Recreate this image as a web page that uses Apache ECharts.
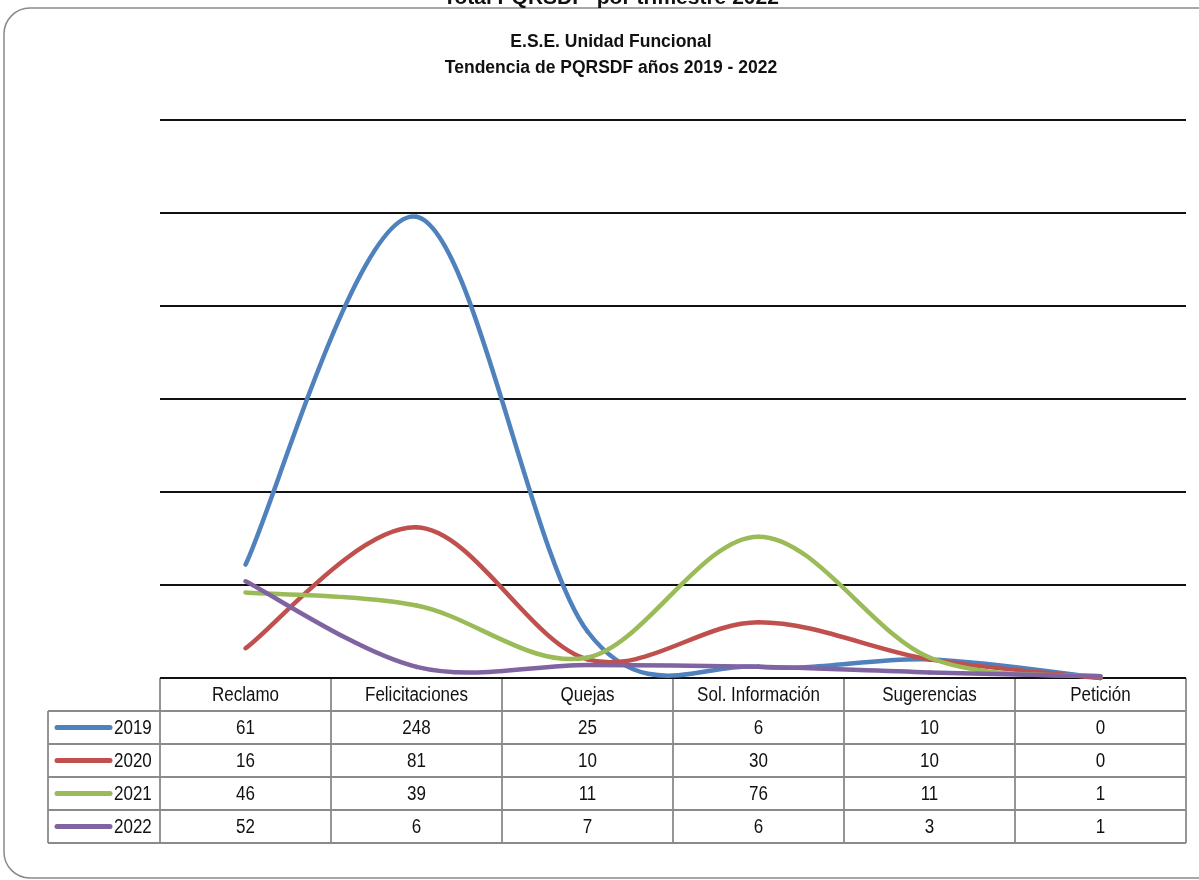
<!DOCTYPE html>
<html>
<head>
<meta charset="utf-8">
<style>
  html, body { margin: 0; padding: 0; background: #fff; }
  #chart { width: 1199px; height: 880px; }
</style>
<script src="https://cdn.jsdelivr.net/npm/echarts@6/dist/echarts.min.js"></script>
</head>
<body>
<div id="chart"></div>
<script>
// PQRSDF counts by type, one list per year
const categories = ['Reclamo', 'Felicitaciones', 'Quejas', 'Sol. Información', 'Sugerencias', 'Petición'];
const years = ['2019', '2020', '2021', '2022'];
const values2019 = [61, 248, 25, 6, 10, 0];
const values2020 = [16, 81, 10, 30, 10, 0];
const values2021 = [46, 39, 11, 76, 11, 1];
const values2022 = [52, 6, 7, 6, 3, 1];
const seriesValues = [values2019, values2020, values2021, values2022];
const colors = ['#4F81BD', '#C0504D', '#9BBB59', '#8064A2'];

const FONT = '"Liberation Sans", Arial, sans-serif';
const NARROW = 0.85; // horizontal squeeze for a narrow-looking face

// plot area geometry
const G = { left: 160, right: 13, top: 120, bottom: 202 };
const W = 1199, H = 880;
const plotRight = W - G.right;
const plotBottom = H - G.bottom;
const colW = (plotRight - G.left) / categories.length;
const rowH = 33;
const legendLeft = 48;

const chart = echarts.init(document.getElementById('chart'), null, { renderer: 'canvas' });

function narrowText(x, y, text, size, weight, align) {
  return {
    type: 'text', silent: true, x: x, y: y, scaleX: NARROW, z: 10,
    style: { x: 0, y: 0, text: text, fill: '#111', font: (weight || 'normal') + ' ' + size + 'px ' + FONT, align: align || 'center', verticalAlign: 'middle' }
  };
}

const graphics = [];
// outer rounded frame
graphics.push({
  type: 'rect', silent: true, z: 0,
  shape: { x: 4, y: 8, width: 1230, height: 870, r: 26 },
  style: { fill: 'none', stroke: '#8a8a8a', lineWidth: 1.5 }
});
// titles (the top one sits mostly above the page edge)
graphics.push({
  type: 'text', silent: true, x: 611, y: 9, z: 10,
  style: { x: 0, y: 0, text: 'Total PQRSDF  por trimestre 2022', fill: '#111', font: 'bold 21px ' + FONT, align: 'center', verticalAlign: 'bottom' }
});
graphics.push({
  type: 'text', silent: true, x: 611, y: 42, z: 10,
  style: { x: 0, y: 0, text: 'E.S.E. Unidad Funcional', fill: '#111', font: 'bold 17.5px ' + FONT, align: 'center', verticalAlign: 'middle' }
});
graphics.push({
  type: 'text', silent: true, x: 611, y: 68, z: 10,
  style: { x: 0, y: 0, text: 'Tendencia de PQRSDF años 2019 - 2022', fill: '#111', font: 'bold 17.5px ' + FONT, align: 'center', verticalAlign: 'middle' }
});

// data table under the plot, built from the arrays above
const gridStroke = '#8a8a8a';
const tableTop = plotBottom;
const tableBottom = tableTop + rowH * (years.length + 1);
graphics.push({ type: 'line', silent: true, shape: { x1: G.left, y1: tableTop, x2: plotRight, y2: tableTop }, style: { stroke: gridStroke, lineWidth: 1.8 } });
for (let r = 1; r <= years.length + 1; r++) {
  const y = tableTop + r * rowH;
  graphics.push({ type: 'line', silent: true, shape: { x1: legendLeft, y1: y, x2: plotRight, y2: y }, style: { stroke: gridStroke, lineWidth: 1.8 } });
}
for (let c = 0; c <= categories.length; c++) {
  const x = G.left + c * colW;
  graphics.push({ type: 'line', silent: true, shape: { x1: x, y1: tableTop, x2: x, y2: tableBottom }, style: { stroke: gridStroke, lineWidth: 1.8 } });
}
graphics.push({ type: 'line', silent: true, shape: { x1: legendLeft, y1: tableTop + rowH, x2: legendLeft, y2: tableBottom }, style: { stroke: gridStroke, lineWidth: 1.8 } });
categories.forEach((c, i) => {
  graphics.push(narrowText(G.left + (i + 0.5) * colW, tableTop + rowH / 2 + 1, c, 20));
});
years.forEach((yr, r) => {
  const yc = tableTop + (r + 1.5) * rowH;
  graphics.push({ type: 'line', silent: true, shape: { x1: 57, y1: yc, x2: 110, y2: yc }, style: { stroke: colors[r], lineWidth: 5, lineCap: 'round' } });
  graphics.push(narrowText(114, yc + 1, yr, 20, 'normal', 'left'));
  seriesValues[r].forEach((v, i) => {
    graphics.push(narrowText(G.left + (i + 0.5) * colW, yc + 1, String(v), 20));
  });
});

// smooth curve through the points: cubic segments with Catmull-Rom style handles
function smoothSegment(values, color) {
  return function (params, api) {
    const i = params.dataIndex;
    if (i >= values.length - 1) return null;
    const p = (j) => {
      const k = Math.max(0, Math.min(values.length - 1, j));
      return api.coord([k, values[k]]);
    };
    const p0 = p(i - 1), p1 = p(i), p2 = p(i + 1), p3 = p(i + 2);
    const t = 1 / 6;
    return {
      type: 'bezierCurve',
      shape: {
        x1: p1[0], y1: p1[1],
        cpx1: p1[0] + (p2[0] - p0[0]) * t, cpy1: p1[1] + (p2[1] - p0[1]) * t,
        cpx2: p2[0] - (p3[0] - p1[0]) * t, cpy2: p2[1] - (p3[1] - p1[1]) * t,
        x2: p2[0], y2: p2[1]
      },
      style: { fill: null, stroke: color, lineWidth: 4.5, lineCap: 'round', lineJoin: 'round' }
    };
  };
}

const option = {
  animation: false,
  backgroundColor: '#fff',
  grid: { left: G.left, right: G.right, top: G.top, bottom: G.bottom, containLabel: false },
  xAxis: {
    type: 'category', data: categories, boundaryGap: true,
    axisLine: { show: false }, axisTick: { show: false }, axisLabel: { show: false }
  },
  yAxis: {
    type: 'value', min: 0, max: 300, interval: 50,
    axisLine: { show: false }, axisTick: { show: false }, axisLabel: { show: false },
    splitLine: { show: true, lineStyle: { color: '#111', width: 1.8 } }
  },
  series: years.map((yr, i) => ({
    name: yr, type: 'custom', clip: false, z: 3 + i,
    data: seriesValues[i].map((v, k) => [k, v]),
    encode: { x: 0, y: 1 },
    renderItem: smoothSegment(seriesValues[i], colors[i])
  })),
  graphic: graphics
};
chart.setOption(option);
</script>
</body>
</html>
